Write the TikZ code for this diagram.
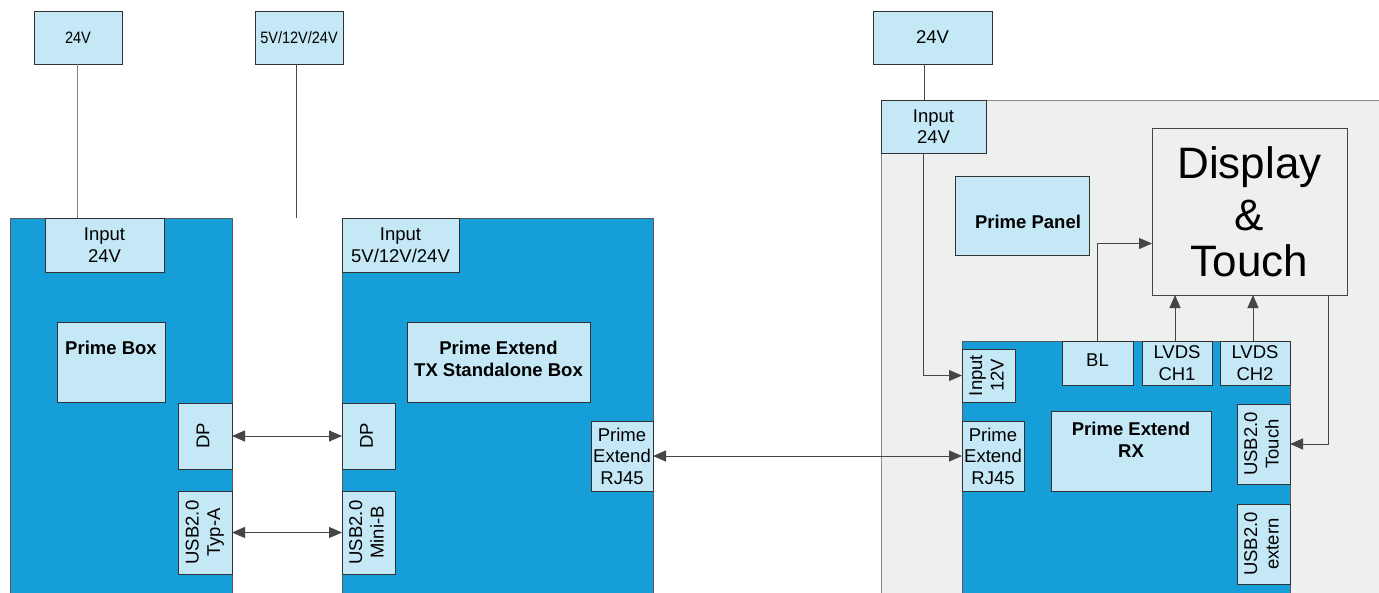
\documentclass[tikz,border=0pt]{standalone}
\usepackage{fontspec}
\setmainfont{Liberation Sans}
\usetikzlibrary{arrows.meta}
\definecolor{bluebox}{RGB}{22,158,216}
\definecolor{lightbox}{RGB}{197,232,247}
\definecolor{panelfill}{RGB}{238,239,239}
\definecolor{panelline}{RGB}{140,140,140}
\definecolor{edge}{RGB}{50,50,50}
\definecolor{wire}{RGB}{70,70,70}
\newcommand\rottext[1]{\rotatebox{90}{\begin{tabular}{@{}c@{}}#1\end{tabular}}}
\newcommand\narrowtext[1]{\scalebox{0.88}[1]{#1}}
\tikzset{
  box/.style={anchor=north west, inner sep=0pt, outer sep=0pt, line width=0.9pt},
  lb/.style={box, fill=lightbox, draw=edge, align=center,
     font=\fontsize{18.5}{21.5}\selectfont},
  narrowlb/.style={lb, font=\fontsize{16.5}{19}\selectfont},
  bigblue/.style={box, fill=bluebox, draw=edge!80},
  boldt/.style={font=\fontsize{18.5}{21.5}\selectfont\bfseries, align=center, inner sep=0pt},
  wirel/.style={draw=wire, line width=1pt},
  arr/.style={wirel, -{Triangle[length=13pt,width=11pt]}},
  darr/.style={wirel, {Triangle[length=13pt,width=11pt]}-{Triangle[length=13pt,width=11pt]}},
}
\begin{document}
\begin{tikzpicture}[x=1pt,y=-1pt]
\useasboundingbox (0,0) rectangle (1379,592);
\clip (0,0) rectangle (1379,592);
\fill[white] (0,0) rectangle (1379,592);

% gray panel
\node[box, fill=panelfill, draw=panelline, minimum width=520pt, minimum height=520pt] (panel) at (881,100) {};

% big blue boxes
\node[bigblue, minimum width=222pt, minimum height=400pt] (pbox) at (10,218) {};
\node[bigblue, minimum width=311pt, minimum height=400pt] (tbox) at (342,218) {};
\node[bigblue, minimum width=328pt, minimum height=300pt] (rbox) at (962,341) {};

% top supply boxes
\node[narrowlb, minimum width=88pt, minimum height=53pt] (t1) at (34,11) {\narrowtext{24V}};
\node[narrowlb, minimum width=88pt, minimum height=53pt] (t2) at (255,11) {\narrowtext{5V/12V/24V}};
\node[lb, minimum width=119pt, minimum height=53pt] (t3) at (873,11) {24V};

% Prime Box
\node[lb, minimum width=119pt, minimum height=54pt] (in1) at (45,218) {Input\\24V};
\node[lb, minimum width=108pt, minimum height=80pt] (pbin) at (57,322) {};
\node[boldt] (pbt) at (111,348) {Prime Box};
\node[lb, minimum width=54pt, minimum height=66pt] (dp1) at (178,403) {\rottext{DP}};
\node[lb, minimum width=54pt, minimum height=83pt] (usb1) at (178,491) {\rottext{USB2.0\\Typ-A}};

% TX box
\node[lb, minimum width=117pt, minimum height=54pt] (in2) at (342,218) {Input\\5V/12V/24V};
\node[lb, minimum width=183pt, minimum height=80pt] (txin) at (407,322) {};
\node[boldt] (txt) at (498.5,359) {Prime Extend\\TX Standalone Box};
\node[lb, minimum width=53pt, minimum height=66pt] (dp2) at (342,403) {\rottext{DP}};
\node[lb, minimum width=53pt, minimum height=83pt] (usb2) at (342,491) {\rottext{USB2.0\\Mini-B}};
\node[lb, minimum width=62pt, minimum height=70pt] (rj1) at (591,421) {Prime\\Extend\\RJ45};

% Panel contents
\node[lb, minimum width=105pt, minimum height=53pt] (in3) at (881,100) {Input\\24V};
\node[lb, minimum width=134pt, minimum height=79pt] (pp) at (955,176) {};
\node[boldt] (ppt) at (1028,222) {Prime Panel};
\node[box, fill=panelfill, draw=wire, minimum width=195pt, minimum height=167pt,
      align=center, font=\fontsize{44}{50}\selectfont] (disp) at (1152,128) {Display\\[2pt]\&\\[-4pt]Touch};

% RX box contents
\node[lb, minimum width=53pt, minimum height=53pt] (in12) at (962,349) {\rottext{Input\\12V}};
\node[lb, minimum width=71pt, minimum height=44pt] (bl) at (1062,341) {\raisebox{6pt}{BL}};
\node[lb, minimum width=70pt, minimum height=44pt] (lv1) at (1142,341) {LVDS\\CH1};
\node[lb, minimum width=70pt, minimum height=44pt] (lv2) at (1220,341) {LVDS\\CH2};
\node[lb, minimum width=62pt, minimum height=70pt] (rj2) at (962,421) {Prime\\Extend\\RJ45};
\node[lb, minimum width=160pt, minimum height=80pt] (rxin) at (1051,411) {};
\node[boldt] (rxt) at (1131,440) {Prime Extend\\RX};
\node[lb, minimum width=53pt, minimum height=80pt] (usbt) at (1237,404) {\rottext{USB2.0\\Touch}};
\node[lb, minimum width=53pt, minimum height=80pt] (usbe) at (1237,504) {\rottext{USB2.0\\extern}};

% supply wires
\draw[wirel, draw=gray] ([xshift=-1pt]t1.south) -- ([xshift=-1pt]t1.south |- in1.north);
\draw[wirel] ([xshift=-3pt]t2.south) -- ([xshift=-3pt]t2.south |- in2.north);
\draw[wirel] ([xshift=-8pt]t3.south) -- ([xshift=-8pt]t3.south |- in3.north);

% links
\draw[darr] (dp1.east) -- (dp2.west);
\draw[darr] (usb1.east) -- (usb2.west);
\draw[darr] (rj1.east) -- (rj2.west);
\draw[arr] ([xshift=-10.5pt]in3.south) |- (in12.west);
\draw[arr] (bl.north) |- ([yshift=-32pt]disp.west);
\draw[arr] ([xshift=-2pt]lv1.north) -- ([xshift=-2pt]lv1.north |- disp.south);
\draw[arr] ([xshift=-2pt]lv2.north) -- ([xshift=-2pt]lv2.north |- disp.south);
\draw[arr] ([xshift=-19pt]disp.south east) |- (usbt.east);
\end{tikzpicture}
\end{document}
